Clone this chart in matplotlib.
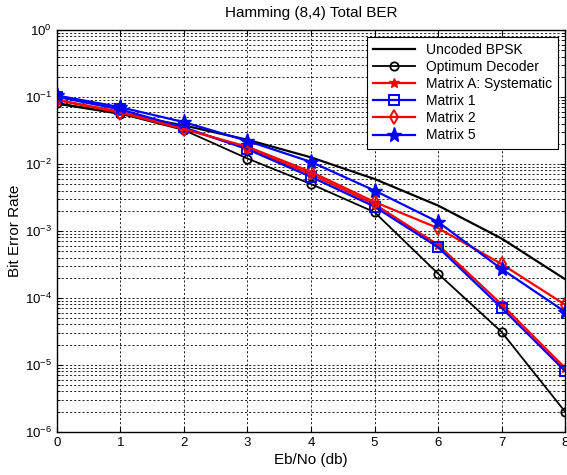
import matplotlib.pyplot as plt
import matplotlib.ticker as mticker
import numpy as np

plt.rcParams['font.family'] = ['Liberation Sans', 'DejaVu Sans']

ebno = [0, 1, 2, 3, 4, 5, 6, 7, 8]
uncoded = [7.9e-2, 5.6e-2, 3.75e-2, 2.29e-2, 1.25e-2, 5.95e-3, 2.39e-3, 7.7e-4, 1.9e-4]
optimum = [8.1e-2, 5.6e-2, 3.2e-2, 1.2e-2, 5.0e-3, 1.9e-3, 2.3e-4, 3.1e-5, 2.0e-6]
matrix_a = [9.0e-2, 6.0e-2, 3.4e-2, 1.7e-2, 7.0e-3, 2.5e-3, 6.2e-4, 8.0e-5, 9.0e-6]
matrix_1 = [1.0e-1, 6.5e-2, 3.5e-2, 1.65e-2, 6.4e-3, 2.3e-3, 5.7e-4, 7.1e-5, 8.1e-6]
matrix_2 = [9.0e-2, 5.8e-2, 3.3e-2, 1.8e-2, 7.6e-3, 2.7e-3, 1.1e-3, 3.2e-4, 7.9e-5]
matrix_5 = [1.05e-1, 7.0e-2, 4.2e-2, 2.2e-2, 1.07e-2, 4.0e-3, 1.36e-3, 2.7e-4, 6.2e-5]

fig = plt.figure(figsize=(5.67, 4.75), dpi=100)
ax = fig.add_axes([0.1005, 0.091, 0.896, 0.846])

ax.semilogy(ebno, uncoded, color='black', lw=1.6, label='Uncoded BPSK')
ax.semilogy(ebno, optimum, color='black', lw=1.3, marker='o', ms=6,
            mfc='none', mew=1.3, label='Optimum Decoder')
ax.semilogy(ebno, matrix_a, color='red', lw=1.6, marker='*', ms=7,
            label='Matrix A: Systematic')
ax.semilogy(ebno, matrix_1, color='blue', lw=1.6, marker='s', ms=7,
            mfc='none', mew=1.4, label='Matrix 1')
ax.semilogy(ebno, matrix_2, color='red', lw=1.6, marker='d', ms=7,
            mfc='none', mew=1.4, label='Matrix 2')
ax.semilogy(ebno, matrix_5, color='blue', lw=1.6, marker='*', ms=11,
            label='Matrix 5')

ax.set_xlim(0, 8)
ax.set_ylim(1e-6, 1)
ax.set_xticks(range(0, 9))
ax.yaxis.set_major_locator(mticker.LogLocator(base=10, numticks=10))
ax.yaxis.set_minor_locator(mticker.LogLocator(base=10, subs=np.arange(2, 10), numticks=10))
ax.yaxis.set_minor_formatter(mticker.NullFormatter())

ax.grid(True, which='major', color='black', ls=(0, (2.5, 2.5)), lw=0.6)
ax.grid(True, which='minor', axis='y', color='black', ls=(0, (2.5, 2.5)), lw=0.6)
ax.tick_params(which='both', direction='in', top=True, right=True, labelsize=9.5)

for s in ax.spines.values():
    s.set_linewidth(1.0)

ax.set_title('Hamming (8,4) Total BER', fontsize=11, pad=9)
ax.set_xlabel('Eb/No (db)', fontsize=11, labelpad=3)
ax.set_ylabel('Bit Error Rate', fontsize=11, labelpad=2)

leg = ax.legend(loc='upper right', fontsize=10, fancybox=False, framealpha=1,
                edgecolor='black', borderpad=0.45, labelspacing=0.22,
                handlelength=3.0, borderaxespad=0.5)
leg.get_frame().set_linewidth(0.8)

fig.savefig('out.png', dpi=100)
